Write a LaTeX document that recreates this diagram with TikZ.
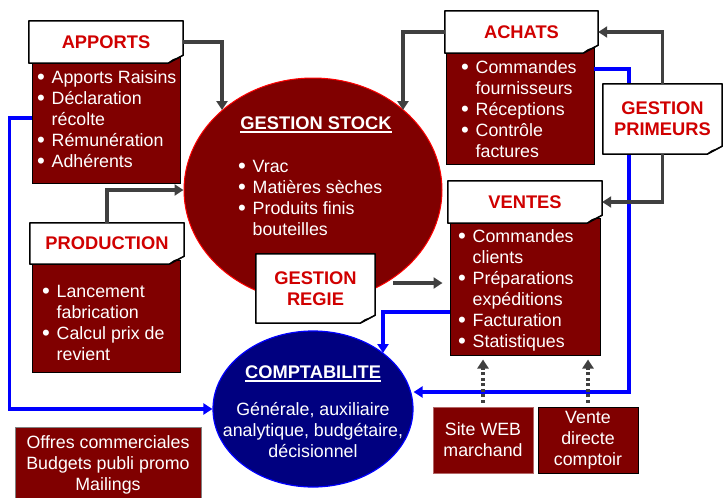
\documentclass[tikz,border=0pt]{standalone}
\usepackage{fontspec}
\setmainfont{Liberation Sans}
\usetikzlibrary{arrows.meta,shapes.geometric,calc}
\definecolor{dred}{HTML}{800000}
\definecolor{hred}{HTML}{D00000}
\definecolor{cgray}{HTML}{404040}
\definecolor{navyc}{HTML}{000080}
\definecolor{blu}{HTML}{0000FF}
\pgfdeclarelayer{back}\pgfdeclarelayer{mid}\pgfsetlayers{back,mid,main}
\newcommand\bodyfont{\fontsize{17.8}{21}\selectfont}
\newcommand\hdrfont{\fontsize{18.3}{21}\selectfont\bfseries}
\newcommand\bdot{\raisebox{-1.2pt}{\scalebox{1.25}{\textbullet}}}
\newcommand\foldbox[1]{%
 \filldraw[fill=white,draw=black,line width=1.5pt,line join=round] (#1.north west) -- (#1.north east) -- ([yshift=8pt]#1.south east) -- ([xshift=-15pt]#1.south east) -- (#1.south west) -- cycle;
 \filldraw[fill=gray!55,draw=black,line width=0.9pt,line join=round] ([yshift=8pt]#1.south east) -- ([xshift=-15pt]#1.south east) .. controls ([xshift=-10pt,yshift=4pt]#1.south east) .. ([xshift=-6pt,yshift=5pt]#1.south east) -- cycle;}
\tikzset{
 redbox/.style={draw=black,line width=1pt,fill=dred,inner sep=0pt},
 hdr/.style={inner sep=0pt,text=hred,font=\hdrfont,align=center},
 wtxt/.style={inner sep=0pt,text=white,font=\bodyfont},
 conn/.style={draw=cgray,line width=3.4pt,-{Triangle[length=9pt,width=11pt]}},
 bconn/.style={draw=blu,line width=3.4pt,-{Triangle[length=9pt,width=11pt]}},
 dconn/.style={draw=cgray,line width=3.4pt,dash pattern=on 3pt off 2.5pt,-{Triangle[length=9pt,width=11pt]}},
}
\begin{document}
\begin{tikzpicture}[x=1pt,y=-1pt]
\useasboundingbox (0,0) rectangle (723,498);
\begin{pgfonlayer}{back}
\node[redbox,minimum width=148pt,minimum height=126pt] (apR) at (106,120) {};
\node[redbox,minimum width=148pt,minimum height=112pt] (prR) at (106,316) {};
\node[redbox,minimum width=148pt,minimum height=116pt] (acR) at (520,106) {};
\node[redbox,minimum width=150pt,minimum height=137pt] (veR) at (525,286.5) {};
\node[ellipse,draw=red,line width=1pt,fill=dred,minimum width=258pt,minimum height=224pt,inner sep=0pt] (stock) at (313,190) {};
\node[ellipse,draw=blu,line width=1.2pt,fill=navyc,minimum width=200pt,minimum height=156pt,inner sep=0pt] (co) at (313,409) {};
\node[wtxt,anchor=base west] (apT) at (37,83) {\begin{tabular}[t]{@{}p{14.5pt}@{}l@{}}\bdot&Apports Raisins\\ \bdot&Déclaration\\ &récolte\\ \bdot&Rémunération\\ \bdot&Adhérents\end{tabular}};
\node[wtxt,anchor=base west] (prT) at (42,297) {\begin{tabular}[t]{@{}p{14.5pt}@{}l@{}}\bdot&Lancement\\ &fabrication\\ \bdot&Calcul prix de\\ &revient\end{tabular}};
\node[wtxt,anchor=base west] (acT) at (461,73) {\begin{tabular}[t]{@{}p{14.5pt}@{}l@{}}\bdot&Commandes\\ &fournisseurs\\ \bdot&Réceptions\\ \bdot&Contrôle\\ &factures\end{tabular}};
\node[wtxt,anchor=base west] (veT) at (458,242) {\begin{tabular}[t]{@{}p{14.5pt}@{}l@{}}\bdot&Commandes\\ &clients\\ \bdot&Préparations\\ &expéditions\\ \bdot&Facturation\\ \bdot&Statistiques\end{tabular}};
\node[wtxt,anchor=base west] (stT) at (238,172) {\begin{tabular}[t]{@{}p{14.5pt}@{}l@{}}\bdot&Vrac\\ \bdot&Matières sèches\\ \bdot&Produits finis\\ &bouteilles\end{tabular}};
\node[wtxt,anchor=base,font=\hdrfont] (stH) at (316,129) {GESTION STOCK};
\draw[white,line width=1.6pt] ([yshift=-3pt]stH.base west) -- ([yshift=-3pt]stH.base east);
\node[wtxt,anchor=base,font=\hdrfont] (coH) at (313,378) {COMPTABILITE};
\draw[white,line width=1.6pt] ([yshift=-3pt]coH.base west) -- ([yshift=-3pt]coH.base east);
\node[wtxt,anchor=base] (coT) at (313,415) {\begin{tabular}[t]{@{}c@{}}Générale, auxiliaire\\ analytique, budgétaire,\\ décisionnel\end{tabular}};
\coordinate (b2) at (450,312);
\coordinate (b3) at (383,353);
\coordinate (b4) at (594,69);
\coordinate (b5) at (629,392);
\draw[bconn] ([yshift=2pt]apR.west) -- ++(-22,0) |- (co.west);
\draw[bconn] (b2) -| (b3);
\draw[bconn] (b4) -| (b5) -- (co.east |- b5);
\end{pgfonlayer}
\node[wtxt,fill=dred,draw=gray,line width=1pt,minimum width=186pt,minimum height=75pt,align=center] (of) at (108,464.5) {Offres commerciales\\ Budgets publi promo\\ Mailings};
\node[wtxt,fill=dred,draw=dred!60!white,line width=1pt,minimum width=100pt,minimum height=66pt,align=center] (sw) at (483,440) {Site WEB\\ marchand};
\node[wtxt,fill=dred,draw=black,line width=1pt,minimum width=100pt,minimum height=66pt,align=center] (vd) at (588,440) {Vente\\ directe\\ comptoir};
\node[hdr,minimum width=154pt,minimum height=42pt] (apH) at (106,42) {APPORTS};
\node[hdr,minimum width=154pt,minimum height=41pt] (prH) at (107,243.5) {PRODUCTION};
\node[hdr,minimum width=153pt,minimum height=42pt] (acH) at (521.5,32) {ACHATS};
\node[hdr,minimum width=154pt,minimum height=42pt] (veH) at (525,202) {VENTES};
\node[hdr,minimum width=119pt,minimum height=70pt] (gpH) at (662.5,119) {GESTION\\ PRIMEURS};
\node[hdr,minimum width=119pt,minimum height=69pt] (rgH) at (315.5,288.5) {GESTION\\ REGIE};
\begin{pgfonlayer}{mid}
\foldbox{apH}\foldbox{prH}\foldbox{acH}\foldbox{veH}\foldbox{gpH}\foldbox{rgH}
\end{pgfonlayer}
\coordinate (s1) at (222,110);
\coordinate (s2) at (403,110);
\coordinate (r1) at (393,283);
\draw[conn] (apH.east) -| (s1);
\draw[conn] (acH.west) -| (s2);
\draw[conn] (prH.north) |- (stock.west);
\draw[conn,shorten >=7pt] (r1) -- (r1 -| veR.west);
\draw[conn] (gpH.north) |- (acH.east);
\draw[conn] (gpH.south) |- (veH.east);
\draw[dconn,shorten <=4pt,shorten >=4pt] (sw.north) -- (sw.north |- veR.south);
\draw[dconn,shorten <=4pt,shorten >=4pt] (vd.north) -- (vd.north |- veR.south);
\end{tikzpicture}
\end{document}
